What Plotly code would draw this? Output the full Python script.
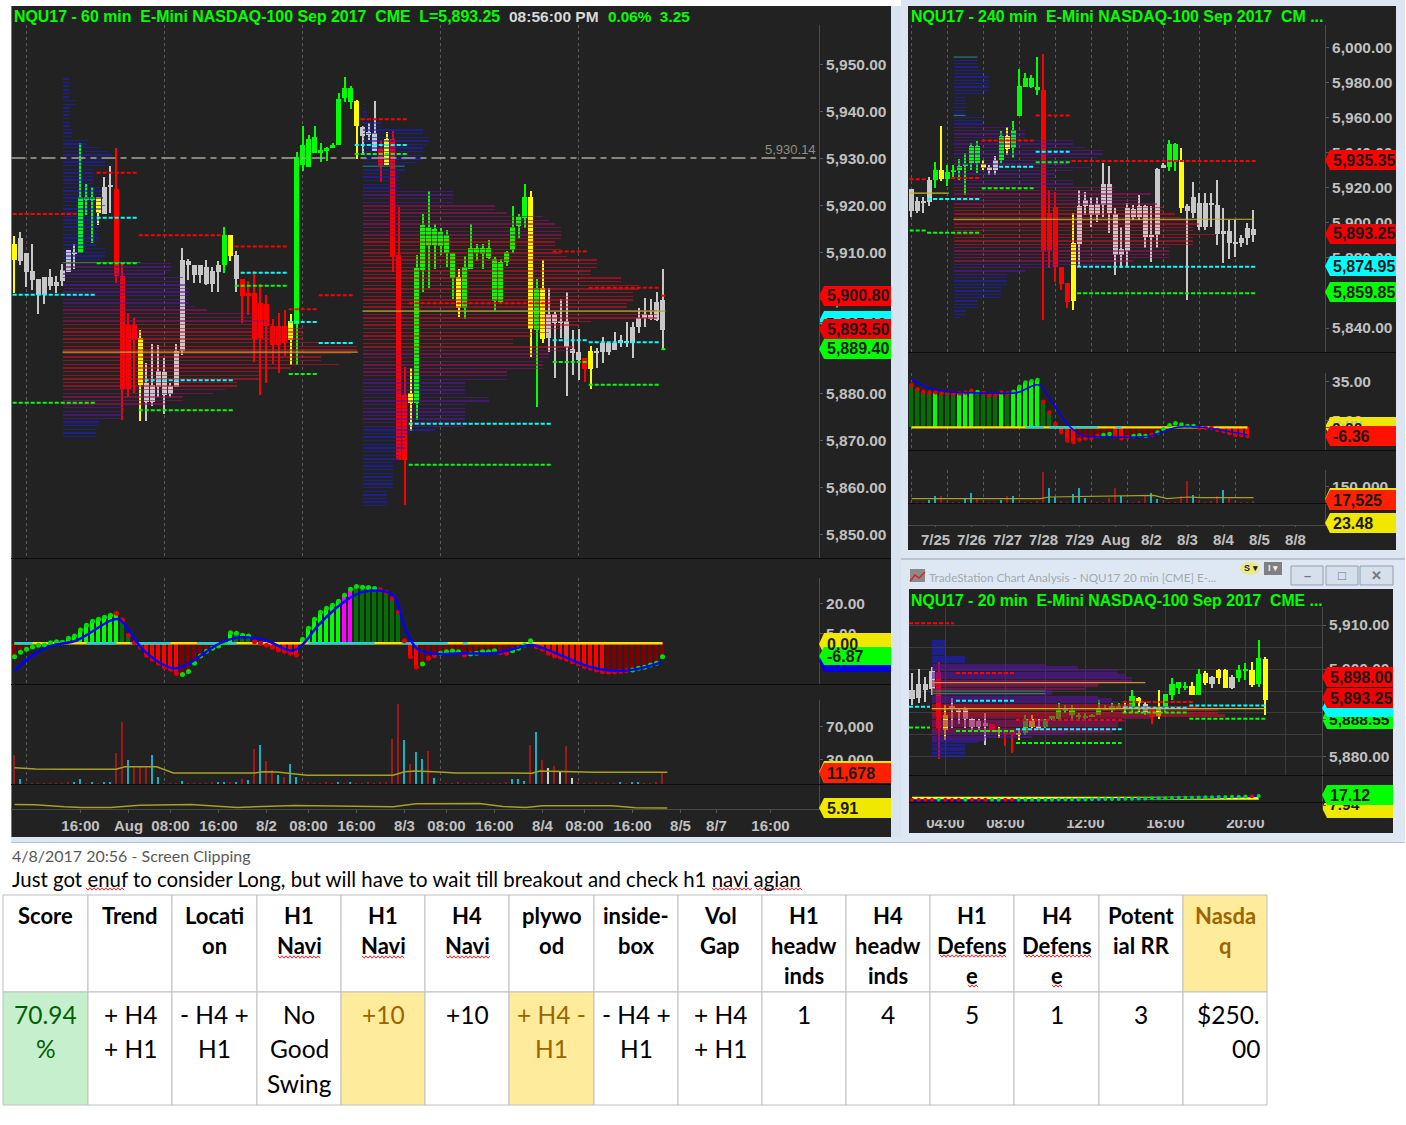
"""TradeStation three-chart screen clipping with a OneNote score table, in Plotly."""

import plotly.graph_objects as go

W, H = 1406, 1125
BG = "#222222"
AXIS_FONT = "Liberation Sans"
TEXT_FONT = "Lato"

# ---- 60 min chart -----------------------------------------------------------
m_top = [5911.9, 5913.0, 5910.0, 5906.0, 5904.3, 5904.7, 5904.7, 5903.7, 5906.3, 5910.5, 5910.2, 5921.9, 5921.9, 5921.9, 5921.9, 5924.0, 5924.1, 5923.5, 5905.0, 5894.6, 5894.6, 5891.8, 5882.3, 5881.8, 5884.8, 5884.6, 5881.6, 5889.0, 5908.5, 5908.2, 5907.3, 5907.3, 5906.9, 5906.0, 5907.3, 5913.8, 5913.8, 5909.5, 5904.3, 5901.4, 5901.4, 5899.2, 5899.0, 5894.4, 5894.4, 5894.4, 5895.4, 5930.4, 5933.0, 5934.3, 5934.6, 5931.8, 5932.3, 5933.0, 5942.8, 5945.0, 5945.0, 5942.2, 5936.8, 5935.6, 5935.5, 5932.0, 5934.3, 5934.3, 5909.5, 5879.6, 5880.0, 5906.7, 5915.9, 5915.5, 5915.0, 5914.3, 5913.8, 5910.0, 5904.7, 5906.9, 5910.9, 5910.9, 5910.9, 5910.9, 5908.6, 5907.9, 5910.2, 5915.4, 5917.5, 5921.8, 5921.8, 5902.4, 5902.5, 5897.0, 5896.8, 5895.2, 5895.5, 5889.5, 5888.9, 5887.6, 5889.0, 5889.1, 5890.8, 5890.7, 5890.8, 5891.4, 5891.2, 5894.2, 5896.0, 5897.0, 5896.7, 5899.5, 5899.9]
m_bot = [5908.4, 5908.2, 5905.9, 5904.1, 5900.9, 5900.9, 5902.9, 5902.9, 5904.0, 5905.9, 5909.6, 5910.0, 5921.2, 5921.2, 5918.4, 5918.2, 5924.0, 5905.0, 5881.0, 5881.0, 5891.4, 5881.8, 5878.2, 5878.2, 5881.4, 5879.6, 5879.9, 5881.4, 5889.1, 5907.4, 5905.3, 5905.3, 5903.2, 5903.4, 5905.9, 5907.3, 5909.2, 5904.3, 5900.7, 5900.7, 5891.5, 5891.5, 5894.4, 5890.4, 5890.2, 5890.8, 5891.4, 5894.8, 5928.7, 5928.3, 5931.3, 5931.4, 5931.7, 5932.2, 5932.9, 5942.9, 5942.0, 5936.9, 5934.9, 5935.2, 5931.7, 5928.7, 5928.7, 5909.0, 5865.8, 5865.8, 5878.0, 5878.0, 5906.3, 5911.6, 5911.6, 5911.4, 5910.0, 5904.5, 5898.1, 5898.1, 5906.6, 5910.0, 5909.6, 5908.8, 5899.7, 5899.4, 5907.9, 5910.6, 5915.7, 5917.3, 5893.7, 5893.4, 5891.6, 5891.7, 5895.0, 5895.0, 5889.9, 5888.5, 5887.1, 5885.2, 5885.2, 5888.5, 5888.7, 5888.9, 5889.2, 5890.8, 5890.8, 5890.8, 5894.2, 5896.0, 5895.8, 5895.6, 5893.4]
m_high = [5913.5, 5914.3, 5910.0, 5911.9, 5904.3, 5904.7, 5906.6, 5905.0, 5907.6, 5910.5, 5911.8, 5933.4, 5924.6, 5924.0, 5921.9, 5926.1, 5928.4, 5932.3, 5907.6, 5897.2, 5896.0, 5893.5, 5886.4, 5890.5, 5890.3, 5887.5, 5882.2, 5890.5, 5911.0, 5908.7, 5907.3, 5907.3, 5908.4, 5906.9, 5908.2, 5915.5, 5913.8, 5910.4, 5904.3, 5904.0, 5906.1, 5903.4, 5900.9, 5895.8, 5897.2, 5897.7, 5896.9, 5931.4, 5937.0, 5935.0, 5936.9, 5933.4, 5932.6, 5933.4, 5944.0, 5947.5, 5945.5, 5942.5, 5937.0, 5937.7, 5942.2, 5934.0, 5935.8, 5936.0, 5919.7, 5885.6, 5885.4, 5909.5, 5918.2, 5923.1, 5916.1, 5915.3, 5914.8, 5910.0, 5906.6, 5909.3, 5916.0, 5911.8, 5911.8, 5912.7, 5909.1, 5908.6, 5910.3, 5920.0, 5918.2, 5924.6, 5923.1, 5904.4, 5908.4, 5902.5, 5897.3, 5900.1, 5901.5, 5893.5, 5893.8, 5887.6, 5890.1, 5889.6, 5891.9, 5890.8, 5893.1, 5892.4, 5895.3, 5895.3, 5898.1, 5900.4, 5900.1, 5901.5, 5906.6]
m_low = [5901.3, 5907.4, 5902.6, 5902.0, 5897.0, 5899.0, 5902.0, 5901.3, 5902.9, 5905.9, 5906.6, 5910.0, 5918.0, 5912.0, 5915.9, 5918.2, 5918.4, 5903.6, 5874.3, 5879.3, 5880.0, 5874.0, 5874.0, 5877.2, 5879.3, 5875.5, 5879.3, 5881.4, 5888.2, 5904.1, 5903.5, 5903.5, 5903.1, 5901.5, 5901.5, 5905.7, 5908.2, 5901.6, 5895.0, 5896.7, 5886.6, 5879.6, 5882.3, 5886.3, 5884.3, 5888.0, 5886.0, 5886.0, 5927.3, 5928.3, 5931.3, 5929.2, 5929.6, 5932.2, 5932.9, 5942.0, 5940.7, 5930.0, 5931.2, 5934.0, 5931.7, 5925.1, 5928.7, 5905.9, 5865.8, 5856.2, 5872.0, 5874.3, 5901.6, 5902.4, 5906.5, 5909.5, 5906.9, 5900.2, 5896.3, 5895.8, 5906.4, 5908.2, 5906.6, 5908.6, 5897.6, 5899.2, 5907.2, 5910.0, 5913.0, 5915.2, 5887.8, 5877.1, 5890.7, 5888.9, 5883.2, 5891.7, 5879.5, 5883.9, 5882.8, 5882.5, 5880.9, 5885.5, 5886.5, 5888.2, 5889.2, 5889.9, 5889.9, 5887.5, 5892.9, 5894.2, 5895.6, 5895.4, 5889.2]
m_color = list(
    "ywwwwwwwwww"   # 0-10
    "gggyww"        # 11-16
    "rrrry"         # 17-21
    "wwwwwwwwwwwww" # 22-34
    "gyw"           # 35-37
    "rrrrrrrr"      # 38-45
    "yg"            # 46-47
    "ggggggggg"     # 48-56
    "ywww"          # 57-60
    "ryrrr"         # 61-65
    "y"             # 66
    "gggggggy"      # 67-74
    "ggggggggggg"   # 75-85
    "ygy"           # 86-88
    "wwwwww"        # 89-94
    "ry"            # 95-96
    "wwwwwwwwwwww"  # 97-108
)

# rows of the volume profiles, widths in bars
m_prof_a = [1, 1, 1, 1, 1, 1, 2.2, 2.2, 1.2, 1.2, 1, 1, 1.2, 1.2, 1.8, 1.5, 1.4, 4.2, 4, 6, 7.5, 8, 7.5, 7, 7.5, 5.2, 5, 5.2, 5, 5, 6, 6.6, 6.6, 6.8, 6.5, 7, 6.5, 6, 6, 6, 6, 6, 6, 6, 6, 6, 5.5, 7, 7, 7, 6.5, 18, 18, 18, 17, 20, 19.5, 20.5, 21, 21, 21, 21, 21, 22, 24, 32, 32, 34, 35, 40, 40, 40, 40, 47, 49, 49, 48, 43, 43, 46, 38, 33, 33, 33, 29, 29, 27, 25, 20, 20, 17, 10, 10, 10, 10, 6, 6, 5.5, 5.5, 5.5]
m_prof_b = [0.5, 0.5, 0.7, 0.7, 0.7, 3, 3, 10, 10, 11, 11, 10.5, 10, 10, 10, 10, 9, 7, 7, 6, 6, 6, 6, 6, 15, 15, 15, 15, 22, 22, 24, 30, 31, 32, 33, 33, 33, 33, 32, 32, 33, 33, 34, 39, 39, 39, 38, 38, 43, 43, 46, 46, 45, 45, 45, 44, 44, 49, 49, 49, 38, 36, 33, 31, 28, 25, 25, 35, 35, 31, 31, 30, 30, 30, 24, 24, 24, 17, 17, 17, 17, 21, 21, 17, 17, 17, 17, 17, 17, 17, 12, 8, 7, 7, 7, 7, 6, 6, 6, 5, 5, 5, 5, 5, 5, 5, 5, 4, 4, 4, 4, 4]

m_red_from = [-0.3, 13.7, 20.7, 36.7, 45.7, 50.7, 57.7, 65.7, 89.7, 95.7, 107.8]
m_red_to = [10.7, 20.4, 34.6, 45.4, 50.5, 56.4, 65.4, 89.5, 95.5, 107.5, 108.5]
m_red_px = [5918.2, 5927.0, 5913.7, 5911.3, 5897.9, 5900.9, 5938.4, 5899.2, 5910.2, 5902.5, 5900.8]
m_cyan_from = [-0.3, 13.7, 21.7, 37.7, 45.7, 50.7, 56.7, 65.7, 89.7, 95.7]
m_cyan_to = [13.5, 20.4, 36.4, 45.4, 50.5, 56.4, 65.4, 89.5, 95.5, 107.5]
m_cyan_px = [5901.0, 5917.4, 5882.8, 5905.7, 5895.2, 5890.7, 5932.9, 5873.5, 5891.3, 5890.9]
m_green_from = [-0.3, 13.7, 20.7, 36.7, 45.7, 56.7, 65.7, 89.7, 95.7, 107.8]
m_green_to = [13.5, 20.4, 36.4, 45.4, 50.5, 65.4, 89.5, 95.5, 107.5, 108.5]
m_green_px = [5878.0, 5907.7, 5876.4, 5902.9, 5884.1, 5931.0, 5864.8, 5886.7, 5881.8, 5889.4]

m_hist = [-6.7, -4.5, -3, -1.8, -1, -0.8, 0.3, 0.8, 0.5, 2.5, 3.7, 6.7, 9, 11, 12, 13, 14, 15, 11.7, 4, 0.3, -2, -6, -8, -10, -12, -13, -15, -15.5, -14, -10, -6.3, -4, -2.5, -1.3, 0.3, 5.3, 5, 4, 3.7, 0.8, 0, -1, -2, -3.3, -4, -5, -5.8, 2, 7.5, 12, 15.5, 17.5, 19, 21, 24, 27, 28.3, 28, 27.8, 27.3, 26.7, 25.5, 22.5, 15.8, 1.3, -6.7, -12, -10.3, -7.5, -6.2, -5, -4.2, -3.8, -4.2, -5.8, -5.3, -5, -4.2, -4.2, -3.7, -4.7, -5, -3.7, -2.5, -0.8, 1.3, -1.7, -3, -5, -6.3, -7, -8, -9.2, -10.3, -11.7, -12.5, -13.3, -14.2, -14.3, -14.3, -14, -13.7, -13.3, -12.5, -12, -10.8, -10, -6.7]
m_hist_color = list("K" * 6 + "L" * 12 + "DD" + "R" * 8 + "K" * 6 + "LLL" + "DDD" + "DD" + "R" * 6 + "L" * 7 + "MM" + "D" * 9 + "RR" + "K" * 19 + "R" * 12 + "K" * 10)
m_dot_color = list("g" * 17 + "r" * 11 + "g" * 12 + "r" * 8 + "g" * 13 + "r" * 7 + "g" + "rr" + "gggg" + "r" + "ggggg" + "rr" + "gggg" + "r" * 16 + "g" * 6)
m_blue_x = [0, 3.5, 6.3, 10.2, 16, 17.4, 21.7, 26.5, 28.5, 34.2, 37.6, 42, 46.3, 48.2, 50.6, 55.4, 58.3, 63, 65, 67, 69.3, 74.6, 80.4, 84.2, 86.2, 95.8, 99.6, 103.5, 107.8]
m_blue_y = [-13.7, -5, -1, 1.3, 11.3, 12, -4, -12.5, -11, 0, 3, 1.3, -3.7, 0, 9, 21.7, 25.8, 24.2, 8.3, -2.5, -5, -5, -4.7, -2, -0.8, -11.7, -13.7, -13, -9.5]
m_zero_cyan_from = [0, 12, 19.3, 30.4, 49, 64.5, 74.7]
m_zero_cyan_to = [3, 17, 26, 37, 60, 72.2, 75.5]

m_vol = [36, 6, 1, 1, 1, 1, 1, 1, 1, 2, 2, 6, 1, 2, 1, 2, 3, 38, 76, 30, 22, 21, 21, 35, 8, 1, 1, 1, 4, 1, 1, 1, 1, 2, 2, 3, 2, 2, 6, 5, 43, 48, 28, 17, 11, 9, 24, 9, 1, 2, 1, 1, 2, 1, 2, 1, 2, 1, 1, 2, 1, 2, 3, 55, 98, 54, 24, 39, 31, 41, 7, 1, 1, 1, 2, 1, 1, 1, 1, 1, 1, 1, 2, 6, 6, 4, 48, 64, 30, 20, 22, 16, 46, 7, 2, 1, 1, 2, 1, 1, 1, 2, 1, 2, 2, 1, 1, 2, 14]
m_vol_teal = [1, 10, 11, 13, 15, 16, 19, 23, 24, 28, 34, 35, 37, 39, 41, 44, 46, 47, 54, 56, 65, 67, 68, 70, 83, 84, 85, 87, 101, 103, 104]
m_vol_white = [89, 91, 93]
m_avg_x = [0, 3.5, 8.3, 16.9, 18.4, 23.7, 26.5, 40, 41.4, 43.8, 48.7, 63.1, 65, 66.9, 70.8, 73.6, 86.2, 87.6, 92.9, 96.7, 108.8]
m_avg_k = [20, 18.5, 18, 18, 21, 21, 13.5, 13.5, 15, 14.6, 10.7, 10.7, 15, 16, 14.6, 13.5, 13.3, 16, 15, 14.4, 14.4]
m_low_x = [0, 3.5, 8.3, 11.2, 16, 20.8, 29.4, 34.2, 37.1, 46.7, 59.2, 63.1, 66.9, 77.5, 81.4, 85.2, 88, 99.6, 103.5, 108.8]
m_low_y = [7.74, 7.57, 6.57, 6.24, 6.24, 7.41, 7.74, 6.57, 6.24, 7.24, 6.57, 6.57, 8.07, 8.24, 6.74, 6.24, 7.07, 7.07, 6.07, 5.91]
m_tick_px = [5950, 5940, 5930, 5920, 5910, 5900, 5890, 5880, 5870, 5860, 5850]
m_time_pos = [11, 19, 26, 34, 42, 49, 57, 65, 72, 80, 88, 95, 103, 111, 117, 126]
m_time_lab = ["16:00", "Aug", "08:00", "16:00", "8/2", "08:00", "16:00", "8/3", "08:00", "16:00", "8/4", "08:00", "16:00", "8/5", "8/7", "16:00"]
m_grid = [2, 25, 48, 71, 94]

# ---- 240 min chart ----------------------------------------------------------
u_top = [5919.3, 5912.6, 5912.6, 5924.6, 5930.3, 5930.3, 5929.2, 5930.0, 5932.3, 5933.8, 5944.1, 5944.1, 5933.8, 5931.9, 5936.1, 5949.8, 5949.8, 5953.2, 5978.0, 5982.8, 5982.8, 5977.7, 5976.1, 5905.9, 5909.0, 5874.6, 5865.5, 5888.4, 5909.7, 5913.2, 5910.3, 5910.7, 5922.1, 5922.1, 5905.0, 5884.9, 5908.4, 5907.8, 5909.4, 5909.7, 5893.3, 5930.9, 5933.2, 5945.2, 5945.2, 5935.9, 5909.7, 5915.0, 5911.3, 5911.3, 5911.5, 5910.5, 5895.2, 5895.2, 5889.1, 5891.4, 5896.9, 5896.8]
u_bot = [5906.9, 5906.9, 5911.3, 5912.2, 5924.6, 5925.2, 5925.2, 5928.8, 5930.0, 5932.8, 5934.2, 5934.2, 5931.1, 5930.0, 5930.0, 5936.1, 5942.2, 5942.7, 5961.3, 5977.7, 5977.7, 5976.1, 5884.2, 5884.5, 5875.0, 5865.0, 5855.0, 5855.3, 5888.0, 5909.7, 5904.6, 5904.6, 5910.3, 5905.5, 5881.7, 5881.7, 5884.2, 5903.2, 5903.6, 5891.8, 5891.8, 5893.1, 5931.1, 5931.7, 5935.3, 5908.8, 5906.7, 5905.9, 5897.9, 5897.9, 5910.3, 5893.5, 5893.5, 5888.5, 5888.4, 5888.5, 5891.2, 5893.1]
u_high = [5919.3, 5915.0, 5915.0, 5926.5, 5934.7, 5955.2, 5933.2, 5933.2, 5936.5, 5939.9, 5945.6, 5946.6, 5936.1, 5933.2, 5938.0, 5952.3, 5954.8, 5958.0, 5987.6, 5985.7, 5984.7, 5994.8, 5996.2, 5918.9, 5917.9, 5874.6, 5865.5, 5905.5, 5918.9, 5917.9, 5915.0, 5915.0, 5934.2, 5932.3, 5908.4, 5897.9, 5911.3, 5910.3, 5916.0, 5910.3, 5909.4, 5931.3, 5934.2, 5947.5, 5945.6, 5942.7, 5911.0, 5923.1, 5917.0, 5917.0, 5917.0, 5924.6, 5908.4, 5901.7, 5901.7, 5893.1, 5899.8, 5907.1]
u_low = [5903.6, 5905.5, 5905.5, 5909.4, 5919.8, 5923.7, 5920.8, 5925.6, 5924.6, 5916.0, 5930.3, 5928.4, 5930.3, 5927.5, 5927.5, 5934.2, 5938.9, 5937.0, 5961.3, 5977.7, 5977.1, 5973.3, 5844.5, 5874.0, 5866.4, 5861.6, 5851.2, 5850.2, 5875.0, 5904.6, 5897.9, 5900.8, 5903.6, 5894.0, 5870.2, 5874.0, 5875.0, 5901.7, 5901.7, 5885.5, 5877.9, 5885.5, 5931.1, 5929.8, 5929.8, 5905.9, 5855.9, 5902.7, 5896.0, 5896.0, 5897.9, 5887.4, 5877.3, 5879.2, 5880.7, 5886.5, 5887.4, 5889.3]
u_color = list("wwwwgyggggggywwgygggggrrrrryw" "wwwwwwwwwwwwwwgg" "y" "wwwwwwwwwwww")
u_prof = [4, 4, 4, 4, 5, 5, 6, 6, 6, 6, 6, 5, 2, 2, 2, 2, 2, 2, 5, 5, 5, 10, 12, 12, 12, 20, 20, 22, 25, 25, 24, 20, 19, 23, 20, 17, 17, 20, 20, 27, 27, 33, 31, 31, 34, 35, 35, 37, 38, 40, 41, 40, 40, 44, 40, 40, 40, 36, 36, 36, 36, 30, 25, 17, 12, 9, 9, 9, 9, 8, 8, 8, 8, 4, 4, 4, 2, 2, 1]
u_red_from = [-0.3, 6.6, 11.7, 20.7, 26.7]
u_red_to = [2.6, 11.5, 20.4, 26.5, 57.5]
u_red_px = [5925.0, 5925.6, 5947.0, 5961.3, 5935.35]
u_cyan_from = [2.6, 14.6, 20.7, 27.6]
u_cyan_to = [11.5, 20.4, 26.5, 57.5]
u_cyan_px = [5913.7, 5932.0, 5940.7, 5875.0]
u_green_from = [-0.3, 2.6, 11.7, 20.7, 27.6]
u_green_to = [2.5, 11.5, 20.4, 26.5, 57.5]
u_green_px = [5895.6, 5894.4, 5919.8, 5934.7, 5859.85]
u_hist = [32.6, 29.2, 27.4, 26.7, 26.9, 26.2, 26.2, 25.9, 26.2, 26.7, 28.2, 27.2, 26.4, 24.9, 24.9, 26.7, 26.2, 27.4, 31.3, 34.4, 35.4, 36.4, 19.7, 11.5, 2.6, -4.1, -10.3, -11.5, -9.7, -8.7, -8.2, -6.7, -5.9, -5.1, -6.7, -8.5, -7.7, -6.7, -6.2, -6.7, -5.9, -4.1, -1.5, 1.5, 3.1, 2.1, 1, 1, -0.5, -0.3, -0.3, -2.1, -3.1, -4.6, -5.9, -6.2, -6.7]
u_hist_color = list("DDDDLDDDLLLDDDDLDLLLLLDDD" "RRR" "KKKKKK" "RR" "KKKKK" "KK" "DDDDD" "RRRRRRRRR")
u_dot_green = [11, 17, 18, 19, 20, 21, 32, 33, 37, 38, 39, 41, 42, 43, 44, 45, 46, 47]
u_blue_x = [0, 2.6, 5.9, 9.3, 12.6, 14.8, 17.6, 21.2, 23.2, 26.5, 28.7, 30.9, 35.9, 39.8, 42, 44.3, 48.2, 56]
u_blue_y = [37.2, 30.8, 27.4, 26.7, 26.2, 26.2, 26.7, 32.6, 21, 0, -6.7, -7.2, -7.7, -6.7, -3.3, 0, 0, -5.9]
u_zero_cyan_from = [19, 23, 34]
u_zero_cyan_to = [22, 31, 35]
u_vol = [9, 9, 9, 30, 66, 60, 9, 6, 9, 48, 93, 45, 6, 9, 9, 30, 66, 60, 9, 6, 9, 12, 279, 135, 54, 15, 9, 84, 138, 48, 6, 6, 9, 45, 138, 60, 6, 9, 15, 63, 90, 39, 9, 6, 6, 63, 198, 75, 12, 6, 12, 60, 120, 54, 9, 6, 6, 12]
u_vol_teal = [3, 4, 9, 10, 15, 17, 23, 24, 27, 28, 29, 35, 40, 41, 47, 52]
u_avg_x = [0, 14.8, 21.5, 22.9, 31.5, 40.4, 42.6, 46, 48.2, 57]
u_avg_k = [39, 36, 39, 54, 60, 69, 39, 54, 48, 48]
u_tick_px = [6000, 5980, 5960, 5940, 5920, 5900, 5880, 5840]
u_time_pos = [4, 10, 16, 22, 28, 34, 40, 46, 52, 58, 64]
u_time_lab = ["7/25", "7/26", "7/27", "7/28", "7/29", "Aug", "8/2", "8/3", "8/4", "8/5", "8/8"]
u_grid = [0, 6, 12, 18, 24, 30, 36, 42, 48, 54]

# ---- 20 min chart -----------------------------------------------------------
l_top = [5895.2, 5896.7, 5896.7, 5899.6, 5899.4, 5889.5, 5891.6, 5890.6, 5890.9, 5888.7, 5888.1, 5887.8, 5887.4, 5886.1, 5886.1, 5886.1, 5885.5, 5888.7, 5888.7, 5887.0, 5888.4, 5889.3, 5890.6, 5891.0, 5890.6, 5889.6, 5889.3, 5889.5, 5891.2, 5891.2, 5891.5, 5891.5, 5891.5, 5893.8, 5893.3, 5892.0, 5891.4, 5891.4, 5894.3, 5896.7, 5897.0, 5896.1, 5896.1, 5898.8, 5899.0, 5898.1, 5899.7, 5899.7, 5898.1, 5899.7, 5900.0, 5899.7, 5902.4, 5902.3]
l_bot = [5893.1, 5893.3, 5895.2, 5895.4, 5886.6, 5886.1, 5891.0, 5890.3, 5888.6, 5886.8, 5886.8, 5887.0, 5885.7, 5885.7, 5885.1, 5885.1, 5885.1, 5885.5, 5886.8, 5886.8, 5886.8, 5888.6, 5888.6, 5890.4, 5889.6, 5889.3, 5889.0, 5889.3, 5889.6, 5890.6, 5890.6, 5891.2, 5890.9, 5891.0, 5892.2, 5890.3, 5889.1, 5889.3, 5891.2, 5894.2, 5895.6, 5895.8, 5894.2, 5894.2, 5896.9, 5896.6, 5897.9, 5895.7, 5895.7, 5897.9, 5899.5, 5896.3, 5896.5, 5893.0]
l_high = [5899.0, 5900.0, 5898.2, 5900.5, 5901.6, 5891.8, 5893.3, 5891.0, 5891.4, 5888.9, 5888.7, 5889.9, 5887.6, 5886.8, 5886.1, 5886.1, 5886.6, 5889.6, 5889.5, 5888.7, 5888.7, 5889.3, 5892.2, 5891.8, 5891.8, 5889.9, 5889.9, 5889.7, 5892.9, 5891.8, 5892.2, 5892.2, 5892.5, 5895.3, 5893.7, 5892.5, 5891.4, 5895.2, 5894.3, 5898.0, 5897.1, 5897.1, 5897.1, 5900.1, 5899.6, 5898.5, 5900.0, 5900.0, 5898.6, 5901.0, 5901.3, 5901.5, 5906.6, 5902.8]
l_low = [5891.8, 5892.2, 5892.5, 5894.0, 5879.6, 5883.8, 5886.5, 5887.6, 5886.5, 5886.1, 5886.1, 5882.8, 5885.7, 5884.3, 5882.5, 5881.0, 5883.8, 5884.9, 5886.5, 5886.1, 5886.5, 5888.4, 5888.4, 5889.9, 5888.4, 5888.4, 5888.4, 5889.2, 5889.6, 5890.6, 5890.3, 5891.0, 5890.3, 5890.3, 5890.3, 5889.5, 5887.6, 5888.7, 5890.3, 5892.9, 5894.4, 5895.2, 5894.2, 5894.2, 5896.3, 5895.7, 5896.7, 5895.7, 5895.4, 5897.1, 5897.5, 5896.0, 5896.0, 5889.5]
l_color = list("wwwwrywwwwwwryrrygyw" "gggggggggggg" "ygywryggggygywyywggyg" "y")
l_prof = [2, 2, 2, 2, 2, 2, 5, 5, 5, 17, 22, 28, 28, 29, 30, 30, 25, 25, 23, 18, 18, 25, 27, 28, 30, 40, 43, 43, 44, 33, 29, 28, 28, 28, 27, 20, 15, 8, 7, 5, 5, 5, 5, 5]
l_red_from = [-0.45, 6.6, 15.6, 31.6]
l_red_to = [6.3, 15.3, 31.45, 42.2]
l_red_px = [5910.4, 5899.1, 5888.4, 5892.5]
l_cyan_from = [-0.45, 6.6, 15.6, 31.6, 41.6]
l_cyan_to = [2.7, 15.3, 31.45, 41.45, 53.3]
l_cyan_px = [5891.4, 5892.8, 5886.3, 5891.2, 5891.7]
l_green_from = [-0.45, 6.6, 15.6, 31.6, 41.6]
l_green_to = [2.7, 15.3, 31.45, 41.45, 53.3]
l_green_px = [5886.7, 5885.9, 5883.2, 5890.1, 5888.7]
l_dots = [-10, -10, -10, -10, -10, -10, -10, -10, -10, -10, -10, -10, -10, -10, -10, -10, -10, -10, -9, -9, -9, -9, -8, -8, -8, -7, -7, -6, -5, -5, -4, -4, -3, -3, -2, -1, 0, 0, 1, 2, 3, 4, 4, 5, 6, 7, 8, 9, 10, 10, 11, 13, 15]
l_dot_red = [0, 1, 2, 3, 5, 6, 7, 9, 10, 11, 14, 15, 51]
l_blue_x = [0, 15, 30, 38, 45, 52]
l_blue_y = [-13, -12, -6, -1, 5, 15]
l_tick_px = [5910, 5900, 5880]
l_time_pos = [5, 14, 26, 38, 50]
l_time_lab = ["04:00", "08:00", "12:00", "16:00", "20:00"]
l_grid = [5, 14, 20, 26, 32, 38, 44, 50, 56]
l_hgrid = [5910, 5905, 5900, 5895, 5890, 5885, 5880]

# ---- notes and table --------------------------------------------------------
clip_stamp = "4/8/2017 20:56 - Screen Clipping"
clip_note = "Just got enuf to consider Long, but will have to wait till breakout and check h1 navi agian"
head_lines = [["Score"], ["Trend"], ["Locati", "on"], ["H1", "Navi"], ["H1", "Navi"], ["H4", "Navi"], ["plywo", "od"], ["inside-", "box"], ["Vol", "Gap"], ["H1", "headw", "inds"], ["H4", "headw", "inds"], ["H1", "Defens", "e"], ["H4", "Defens", "e"], ["Potent", "ial RR"], ["Nasda", "q"]]
cell_lines = [["70.94", "%"], ["+ H4", "+ H1"], ["- H4 +", "H1"], ["No", "Good", "Swing"], ["+10"], ["+10"], ["+ H4 -", "H1"], ["- H4 +", "H1"], ["+ H4", "+ H1"], ["1"], ["4"], ["5"], ["1"], ["3"], ["$250.", "00"]]
col_edges = [3, 88, 172, 257, 341, 425, 509, 594, 678, 762, 846, 930, 1014, 1099, 1183, 1267]

CANDLE = {"w": "#c8c8c8", "g": "#00ff00", "r": "#ff0000", "y": "#ffff00"}
HIST = {"L": "#00ff00", "D": "#007000", "M": "#ff00ff", "R": "#ff0000", "K": "#800000"}
BLUE_ROW = "rgba(30,30,210,0.6)"
PURP_ROW = "rgba(90,20,165,0.6)"
MAG_ROW = "rgba(155,15,100,0.6)"
RED_ROW = "rgba(205,15,40,0.6)"

fig = go.Figure()
layout = {}
shapes = []
notes = []


def fx(px):
    return px / W


def fy(px):
    return 1 - px / H


def rect(x0, y0, x1, y1, fill, line=None, layer="below"):
    shapes.append(dict(type="rect", xref="paper", yref="paper", x0=fx(x0), x1=fx(x1), y0=fy(y0), y1=fy(y1),
                       fillcolor=fill, line=dict(color=line or fill, width=1 if line else 0), layer=layer))


def note(x, y, text, size=14, color="#000000", family=TEXT_FONT, anchor="left", weight="normal"):
    notes.append(dict(x=fx(x), y=fy(y), xref="paper", yref="paper", text=text, showarrow=False, xanchor=anchor,
                      yanchor="middle", borderpad=0, font=dict(size=size, color=color, family=family, weight=weight)))


def tag(x0, x1, yc, fill, text=None, h=20, layer="above"):
    top, bot = fy(yc - h / 2), fy(yc + h / 2)
    path = (f"M {fx(x0)} {fy(yc)} L {fx(x0 + 5)} {top} L {fx(x1)} {top} "
            f"L {fx(x1)} {bot} L {fx(x0 + 5)} {bot} Z")
    shapes.append(dict(type="path", xref="paper", yref="paper", path=path, fillcolor=fill, line=dict(width=0), layer=layer))
    if text:
        note(x0 + 7, yc, text, size=16, color="#1a1a1a", family=AXIS_FONT, weight="bold")


def squiggle(x0, x1, y):
    pts = []
    x, up = x0, True
    while x <= x1:
        pts.append(f"{fx(x)} {fy(y - 1.2 if up else y + 1.2)}")
        x, up = x + 2, not up
    shapes.append(dict(type="path", xref="paper", yref="paper", path="M " + " L ".join(pts),
                       line=dict(color="#ff2020", width=1), layer="above"))


def add_pane(n, xpx, ypx, xr, yr, xopts=None, yopts=None):
    s = "" if n == 1 else str(n)
    # the default template turns automargin on, which would squeeze the page
    xa = dict(domain=[fx(xpx[0]), fx(xpx[1])], range=xr, anchor=f"y{s}", showgrid=False, zeroline=False,
              showticklabels=False, ticks="", fixedrange=True, automargin=False)
    ya = dict(domain=[fy(ypx[1]), fy(ypx[0])], range=yr, anchor=f"x{s}", side="right", showgrid=False, zeroline=False,
              showline=True, linecolor="#4a4a4a", linewidth=1, ticks="", showticklabels=False, fixedrange=True, automargin=False)
    xa.update(xopts or {})
    ya.update(yopts or {})
    layout[f"xaxis{s}"] = xa
    layout[f"yaxis{s}"] = ya


def grid_x(vals):
    return dict(tickmode="array", tickvals=vals, showgrid=True, griddash="3px,3px", gridcolor="#5a5a5a", gridwidth=1)


def time_x(pos, labels, ticklen):
    return dict(tickmode="array", tickvals=pos, ticktext=labels, showticklabels=True, ticks="outside", ticklen=ticklen,
                tickcolor="#5a5a5a", showline=True, linecolor="#4a4a4a",
                tickfont=dict(family=AXIS_FONT, size=15, color="#c0c0c0", weight="bold"))


def price_y(vals, labels=None, fmt=",.2f"):
    out = dict(tickmode="array", tickvals=vals, showticklabels=True, ticks="outside", ticklen=3, tickcolor="#5a5a5a",
               tickfont=dict(family=AXIS_FONT, size=15.5, color="#c0c0c0", weight="bold"), tickformat=fmt)
    if labels:
        out["ticktext"] = labels
    return out


def ax(n):
    s = "" if n == 1 else str(n)
    return dict(xaxis=f"x{s}", yaxis=f"y{s}", showlegend=False, hoverinfo="skip")


def candles(n, top, bot, high, low, codes, width=0.82, wick=0.17):
    xs = list(range(len(top)))
    colors = [CANDLE[c] for c in codes]
    fig.add_trace(go.Bar(x=xs, y=[h - l for h, l in zip(high, low)], base=low, width=wick,
                         marker=dict(color=colors, line=dict(width=0)), **ax(n)))
    fig.add_trace(go.Bar(x=xs, y=[max(t - b, 0.3) for t, b in zip(top, bot)], base=bot, width=width,
                         marker=dict(color=colors, line=dict(width=0)), **ax(n)))


def profile(n, start, first, step, widths, zone_ends, zone_colors, thick):
    rows = [first - k * step for k in range(len(widths))]
    colors = []
    for k in range(len(widths)):
        z = 0
        while z < len(zone_ends) and k >= zone_ends[z]:
            z += 1
        colors.append(zone_colors[z])
    fig.add_trace(go.Bar(y=rows, x=widths, base=start, orientation="h", width=thick,
                         marker=dict(color=colors, line=dict(width=0)), **ax(n)))


def segments(n, starts, ends, values, color, width=2, dash="4px,2px", opacity=1):
    xs, ys = [], []
    for a, b, v in zip(starts, ends, values):
        xs += [a, b, None]
        ys += [v, v, None]
    fig.add_trace(go.Scatter(x=xs, y=ys, mode="lines", opacity=opacity, line=dict(color=color, width=width, dash=dash), **ax(n)))


def levels(n, red, cyan, green):
    segments(n, *red, "#ff0000")
    segments(n, *cyan, "#00ffff")
    segments(n, *green, "#00ff00")


# page chrome: drawn first so that everything else sits above it
rect(891, 6, 901, 842, "#d8e3f0")
rect(11, 837, 901, 842, "#dde7f2")
rect(901, 0, 1405, 558, "#dce6f2")
rect(901, 558, 1405, 842, "#dde8f4")
rect(11, 6, 891, 837, BG)
rect(908, 6, 1396, 550, BG)
rect(909, 589, 1393, 833, BG)
rect(11, 6, 12, 837, "#777777")
rect(901, 558, 1405, 560, "#b8c4d0")
rect(11, 842, 1405, 843, "#b8c4d0")

# panes: main chart 1-4, 240 min 5-8, 20 min 9-10
MX = (11, 819)
MR = [-0.583, 134.08]
add_pane(1, MX, (25, 558), MR, [5844.9, 5958.5], grid_x(m_grid),
         price_y(m_tick_px + [5895.10], [f"{v:,.2f}" for v in m_tick_px] + ["<span style='color:#1a1a1a'>5,895.10</span>"]))
add_pane(2, MX, (578, 684), MR, [-20.3, 32.6], grid_x(m_grid), price_y([20, 5], ["20.00", "5.00"]))
add_pane(3, MX, (700, 784), MR, [0, 103000], grid_x(m_grid), price_y([70000, 30000], ["70,000", "30,000"]))
add_pane(4, MX, (784, 809), MR, [5.4, 18.4], time_x(m_time_pos, m_time_lab, 3))
UX = (908, 1325)
UR = [-0.583, 68.92]
add_pane(5, UX, (25, 352), UR, [5826.3, 6013], grid_x(u_grid), price_y(u_tick_px))
add_pane(6, UX, (373, 450), UR, [-17.5, 41.8], grid_x(u_grid),
         price_y([35, 5, 0], ["35.00", "5.00", "<span style='color:#1a1a1a'>0.00</span>"]))
add_pane(7, UX, (470, 503), UR, [0, 297000], grid_x(u_grid), price_y([150000], ["150,000"]))
add_pane(8, UX, (503, 525), UR, [0, 1], time_x(u_time_pos, u_time_lab, 1))
LX = (909, 1322)
LR = [-0.45, 61.5]
l_tick_all = l_tick_px + [5888.55]
l_tick_txt = [f"{v:,.2f}" for v in l_tick_px] + ["<span style='color:#1a1a1a'>5,888.55</span>"]
add_pane(9, LX, (607, 775), LR, [5875.9, 5914.1],
         dict(tickmode="array", tickvals=l_grid, showgrid=True, griddash="solid", gridcolor="#3c3c3c"),
         dict(price_y(l_tick_all, l_tick_txt), minor=dict(tickmode="array", tickvals=l_hgrid, showgrid=True, gridcolor="#3c3c3c", griddash="solid", ticklen=0)))
add_pane(10, LX, (775, 809), LR, [-68.7, 149.6], time_x(l_time_pos, l_time_lab, 0),
         price_y([-43], ["<span style='color:#1a1a1a'>7.94</span>"]))

# 60 min chart
candles(1, m_top, m_bot, m_high, m_low, m_color)
profile(1, 8, 5947.0, 0.77, m_prof_a, [51, 64, 68, 86, 91, 95], [BLUE_ROW, PURP_ROW, MAG_ROW, RED_ROW, MAG_ROW, PURP_ROW, BLUE_ROW], 0.3)
profile(1, 58, 5941.5, 0.77, m_prof_b, [24, 28, 37, 68, 76, 90], [BLUE_ROW, PURP_ROW, MAG_ROW, RED_ROW, MAG_ROW, PURP_ROW, BLUE_ROW], 0.3)
segments(1, [-0.5], [133.6], [5930.14], "#a8a89c", width=1.6, dash="14px,5px,6px,5px")
segments(1, [8, 58], [57.2, 108.5], [5888.8, 5897.5], "#b0a830", width=1.3, dash="solid")
segments(1, [8, 58], [21, 65], [5907.9, 5928.4], "#2a8a2a", width=1, dash="solid")
levels(1, (m_red_from, m_red_to, m_red_px), (m_cyan_from, m_cyan_to, m_cyan_px), (m_green_from, m_green_to, m_green_px))

# histogram bars sit half a pixel left of the candles so they round to 4px
xs = list(range(len(m_hist)))
fig.add_trace(go.Bar(x=xs, y=m_hist, width=0.66, offset=-0.413, marker=dict(color=[HIST[c] for c in m_hist_color], line=dict(width=0)), **ax(2)))
segments(2, [0], [108], [0], "#ffe000", width=2.5, dash="solid")
segments(2, m_zero_cyan_from, m_zero_cyan_to, [0] * len(m_zero_cyan_to), "#20d0e0", width=2.5, dash="solid")
fig.add_trace(go.Scatter(x=xs, y=m_hist, mode="markers", marker=dict(size=5, color=["#00e000" if c == "g" else "#e00000" for c in m_dot_color]), **ax(2)))
fig.add_trace(go.Scatter(x=m_blue_x, y=m_blue_y, mode="lines", line=dict(color="#0000ff", width=2.5, shape="spline"), **ax(2)))

vol_colors = ["#18b0c0" if i in m_vol_teal else "#d0d0d0" if i in m_vol_white else "#a01818" for i in xs]
fig.add_trace(go.Bar(x=xs, y=[v * 1000 for v in m_vol], width=0.2, marker=dict(color=vol_colors, line=dict(width=0)), **ax(3)))
fig.add_trace(go.Scatter(x=m_avg_x, y=[v * 1000 for v in m_avg_k], mode="lines", line=dict(color="#a8a020", width=1.5), **ax(3)))
fig.add_trace(go.Scatter(x=m_low_x, y=m_low_y, mode="lines", line=dict(color="#a8a020", width=1.5), **ax(4)))

# 240 min chart
candles(5, u_top, u_bot, u_high, u_low, u_color)
profile(5, 7, 5994.7, 1.908, u_prof, [21, 39, 45, 57, 62, 66], [BLUE_ROW, PURP_ROW, MAG_ROW, RED_ROW, MAG_ROW, PURP_ROW, BLUE_ROW], 0.75)
segments(5, [7, -0.3], [57, 6.2], [5902.1, 5917], "#c8b820", width=1.2, dash="solid")
segments(5, [7, 7], [11, 9], [5994.7, 5961.3], "#2a8a2a", width=1, dash="solid")
levels(5, (u_red_from, u_red_to, u_red_px), (u_cyan_from, u_cyan_to, u_cyan_px), (u_green_from, u_green_to, u_green_px))

xs = list(range(len(u_hist)))
fig.add_trace(go.Bar(x=xs, y=u_hist, width=0.66, offset=-0.413, marker=dict(color=[HIST[c] for c in u_hist_color], line=dict(width=0)), **ax(6)))
segments(6, [0], [56], [0], "#ffe000", width=2.2, dash="solid")
segments(6, u_zero_cyan_from, u_zero_cyan_to, [0] * 3, "#20d0e0", width=2.2, dash="solid")
fig.add_trace(go.Scatter(x=xs, y=u_hist, mode="markers", marker=dict(size=4.5, color=["#00e000" if i in u_dot_green else "#e00000" for i in xs]), **ax(6)))
fig.add_trace(go.Scatter(x=u_blue_x, y=u_blue_y, mode="lines", line=dict(color="#0000ff", width=1.6, shape="spline"), **ax(6)))
xs = list(range(len(u_vol)))
fig.add_trace(go.Bar(x=xs, y=[v * 1000 for v in u_vol], width=0.2, marker=dict(color=["#18b0c0" if i in u_vol_teal else "#a01818" for i in xs], line=dict(width=0)), **ax(7)))
fig.add_trace(go.Scatter(x=u_avg_x, y=[v * 1000 for v in u_avg_k], mode="lines", line=dict(color="#a8a020", width=1.2), **ax(7)))
# the date strip has no marks of its own, an unseen trace makes its axis draw
fig.add_trace(go.Scatter(x=u_time_pos, y=[0.5] * len(u_time_pos), mode="markers", marker=dict(size=1, opacity=0), **ax(8)))

# 20 min chart
candles(9, l_top, l_bot, l_high, l_low, l_color, width=0.78, wick=0.16)
profile(9, 2.95, 5906.4, 0.607, l_prof, [9, 15, 19, 24, 29, 35, 38], [BLUE_ROW, PURP_ROW, MAG_ROW, PURP_ROW, RED_ROW, MAG_ROW, PURP_ROW, BLUE_ROW], 0.52)
segments(9, [2.95], [35], [5896.9], "#d09030", width=1.2, dash="solid")
segments(9, [2.95, 2.95], [20, 20], [5895, 5894.4], "#309030", width=1, dash="solid")
segments(9, [2.95], [53], [5891], "#d0b020", width=1.2, dash="solid")
levels(9, (l_red_from, l_red_to, l_red_px), (l_cyan_from, l_cyan_to, l_cyan_px), (l_green_from, l_green_to, l_green_px))
xs = list(range(len(l_dots)))
segments(10, [0], [52], [0], "#ffff00", width=3, dash="solid")
fig.add_trace(go.Scatter(x=l_blue_x, y=l_blue_y, mode="lines", line=dict(color="#0000ff", width=2), **ax(10)))
fig.add_trace(go.Scatter(x=xs, y=l_dots, mode="markers", marker=dict(size=4, color=["#e00000" if i in l_dot_red else "#00e000" for i in xs]), **ax(10)))

# separators
for y0, x0, x1 in [(558, 11, 891), (684, 11, 891), (784, 11, 891), (352, 908, 1396), (450, 908, 1396), (503, 908, 1396), (775, 909, 1393)]:
    rect(x0, y0, x1, y0 + 1, "#0c0c0c", layer="above")
rect(909, 803, 1322, 820, BG, layer="above")
rect(909, 802, 1393, 803, "#0c0c0c", layer="above")

# price flags
tag(819, 891, 321, "#00ffff", layer="below")
tag(819, 891, 296, "#ff0000", "5,900.80")
tag(819, 891, 329, "#f00000", "5,893.50")
tag(819, 891, 349, "#00ff00", "5,889.40")
tag(819, 891, 661, "#0000e0", h=22)
tag(819, 891, 644, "#f0e800", "0.00", h=22)
tag(819, 891, 656, "#00ff00", "-6.87", h=18)
tag(819, 891, 772, "#f0e800", h=22)
tag(819, 891, 773, "#ff2000", "11,678")
tag(819, 891, 808, "#f0e800", "5.91")
tag(1325, 1396, 160, "#ff0000", "5,935.35")
tag(1325, 1396, 234, "#f00000", "5,893.25")
tag(1325, 1396, 266, "#00ffff", "5,874.95")
tag(1325, 1396, 292, "#00ff00", "5,859.85")
tag(1325, 1396, 427, "#f0e800", layer="below")
rect(1330, 417, 1396, 421, "#f0e800", layer="above")
tag(1325, 1396, 436, "#ff1000", "-6.36")
tag(1325, 1396, 499, "#f0e800", h=22)
tag(1325, 1396, 500, "#ff2000", "17,525")
tag(1325, 1396, 523, "#f0e800", "23.48")
tag(1322, 1393, 719, "#00ff00", layer="below")
tag(1322, 1393, 708, "#00ffff", h=18)
tag(1322, 1393, 677, "#ff0000", "5,898.00")
tag(1322, 1393, 698, "#f00000", "5,893.25")
tag(1322, 1393, 808, "#f0e800", layer="below")
tag(1322, 1393, 795, "#00ff00", "17.12")

# chart titles
LIME = "#00ff00"
note(13, 16, "NQU17 - 60 min\u00a0\u00a0E-Mini NASDAQ-100 Sep 2017\u00a0\u00a0CME\u00a0\u00a0L=5,893.25", 15.9, LIME, AXIS_FONT, weight="bold")
note(508, 16, "08:56:00 PM", 15.5, "#d8d8d8", AXIS_FONT, weight="bold")
note(607, 16, "0.06%\u00a0\u00a03.25", 15.3, LIME, AXIS_FONT, weight="bold")
note(910, 16, "NQU17 - 240 min\u00a0\u00a0E-Mini NASDAQ-100 Sep 2017\u00a0\u00a0CM ...", 15.9, LIME, AXIS_FONT, weight="bold")
note(910, 600, "NQU17 - 20 min\u00a0\u00a0E-Mini NASDAQ-100 Sep 2017\u00a0\u00a0CME ...", 15.8, LIME, AXIS_FONT, weight="bold")
note(817, 149, "5,930.14", 13, "#8f8f85", AXIS_FONT, anchor="right")

# 20 min window title bar
rect(910, 569, 925, 582, "#8a8a8a", layer="above")
shapes.append(dict(type="path", xref="paper", yref="paper", layer="above", line=dict(color="#e02020", width=1.5),
                   path=f"M {fx(910)} {fy(581)} L {fx(915)} {fy(575)} L {fx(919)} {fy(578)} L {fx(925)} {fy(572)}"))
note(928, 577, "TradeStation Chart Analysis - NQU17 20 min [CME] E-...", 11.7, "#a4a8ac", TEXT_FONT)
shapes.append(dict(type="circle", xref="paper", yref="paper", x0=fx(1240), x1=fx(1260), y0=fy(575), y1=fy(562), fillcolor="#ece88a", line=dict(width=0), layer="above"))
note(1243, 568, "S \u25be", 9, "#222222", AXIS_FONT, weight="bold")
rect(1264, 562, 1282, 575, "#808080", layer="above")
note(1267, 568, "I \u25be", 9, "#f0f0f0", AXIS_FONT, weight="bold")
for b0, b1, glyph in [(1291, 1323, "\u2013"), (1326, 1358, "\u25a1"), (1360, 1393, "\u2715")]:
    rect(b0, 566, b1, 585, "#d5e0ec", "#8fa0b0", layer="above")
    note((b0 + b1) / 2, 575, glyph, 13, "#707880", AXIS_FONT, anchor="center", weight="bold")

# note text
note(11, 855, clip_stamp, 16, "#595959")
note(11, 879, clip_note, 20.4, "#000000")
squiggle(86, 124, 889)
squiggle(712, 752, 889)
squiggle(756, 802, 889)

# table
HEAD_Y = [915, 945, 975]
CELL_Y = [1014, 1048, 1083]
head_fill = {14: "#ffeb9c"}
cell_fill = {0: "#c6efce", 4: "#ffeb9c", 6: "#ffeb9c"}
cell_ink = {0: "#006100", 4: "#9c6500", 6: "#9c6500"}
for i in range(15):
    x0, x1 = col_edges[i], col_edges[i + 1]
    mid = (x0 + x1) / 2
    rect(x0, 895, x1, 992, head_fill.get(i, "#ffffff"), "#c0c0c0")
    rect(x0, 992, x1, 1105, cell_fill.get(i, "#ffffff"), "#c0c0c0")
    for line, y in zip(head_lines[i], HEAD_Y):
        note(mid, y, line, 22, "#9c6500" if i == 14 else "#000000", anchor="center", weight="bold")
    for line, y in zip(cell_lines[i], CELL_Y):
        if i == 14:
            note(x1 - 6, y, line, 24.5, "#000000", anchor="right")
        else:
            note(mid, y, line, 24.5, cell_ink.get(i, "#000000"), anchor="center")
squiggle(278, 321, 957)
squiggle(362, 405, 957)
squiggle(446, 490, 957)
squiggle(940, 1007, 956)
squiggle(1025, 1092, 956)
squiggle(968, 978, 986)
squiggle(1052, 1062, 986)

fig.update_layout(
    width=W, height=H, margin=dict(l=0, r=0, t=0, b=0, pad=0), autosize=False,
    paper_bgcolor="#ffffff", plot_bgcolor="rgba(0,0,0,0)", barmode="overlay", bargap=0,
    showlegend=False, shapes=shapes, annotations=notes, **layout,
)

fig.write_html(
    "out.html",
    config={"displayModeBar": False},
    post_script=(
        "document.documentElement.style.overflow='hidden';"
        "document.body.style.margin='0';document.body.style.height='1125px';document.body.style.overflow='hidden';"
    ),
)
